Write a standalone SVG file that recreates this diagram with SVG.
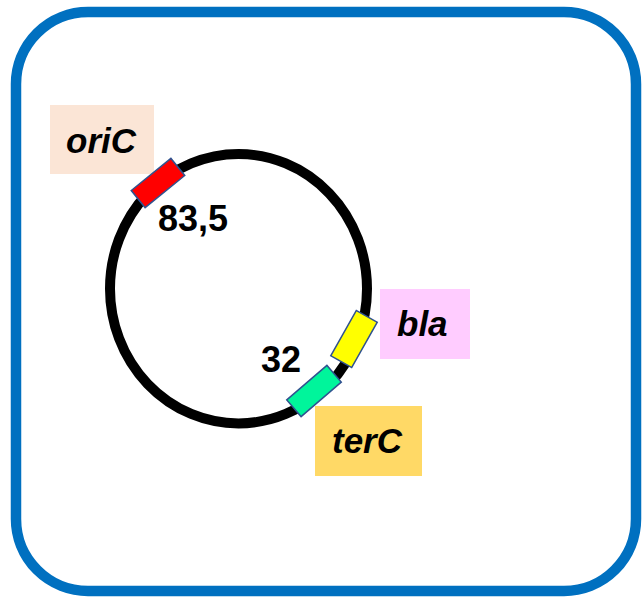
<svg xmlns="http://www.w3.org/2000/svg" width="642" height="597" viewBox="0 0 642 597">
<style>
.lbl{font-family:"Liberation Sans",Arial,sans-serif;font-weight:bold;font-style:italic;font-size:35px;fill:#000}
.num{font-family:"Liberation Sans",Arial,sans-serif;font-weight:bold;font-size:36px;fill:#000}
.mk{stroke:#2F528F;stroke-width:1.5}
</style>
<rect x="16" y="12" width="620" height="579" rx="72" ry="72" fill="#fff" stroke="#0070C0" stroke-width="10.5"/>
<g id="connectors">
<ellipse id="plasmid" cx="238.5" cy="288.7" rx="128.5" ry="134.7" fill="none" stroke="#000" stroke-width="10"/>
</g>
<g id="oriC">
<rect x="50" y="105" width="104" height="69" fill="#FBE5D6"/>
<text class="lbl" x="66" y="153">oriC</text>
</g>
<g id="oriC-marker">
<rect class="mk" x="-25.5" y="-11" width="51" height="22" fill="#FF0000" transform="translate(158 183) rotate(-39)"/>
</g>
<g id="label-83">
<text class="num" x="158" y="231">83,5</text>
</g>
<g id="bla">
<rect x="380" y="289" width="90" height="70" fill="#FFCCFF"/>
<text class="lbl" x="397" y="336">bla</text>
</g>
<g id="bla-marker">
<rect class="mk" x="-26" y="-12" width="52" height="24" fill="#FFFF00" transform="translate(354 339) rotate(-60.6)"/>
</g>
<g id="terC">
<rect x="315" y="406" width="107" height="70" fill="#FFD966"/>
<text class="lbl" x="332" y="453">terC</text>
</g>
<g id="terC-marker">
<rect class="mk" x="-26.5" y="-11" width="53" height="22" fill="#00F59B" transform="translate(314 391) rotate(-40.7)"/>
</g>
<g id="label-32">
<text class="num" x="261" y="372">32</text>
</g>
</svg>
